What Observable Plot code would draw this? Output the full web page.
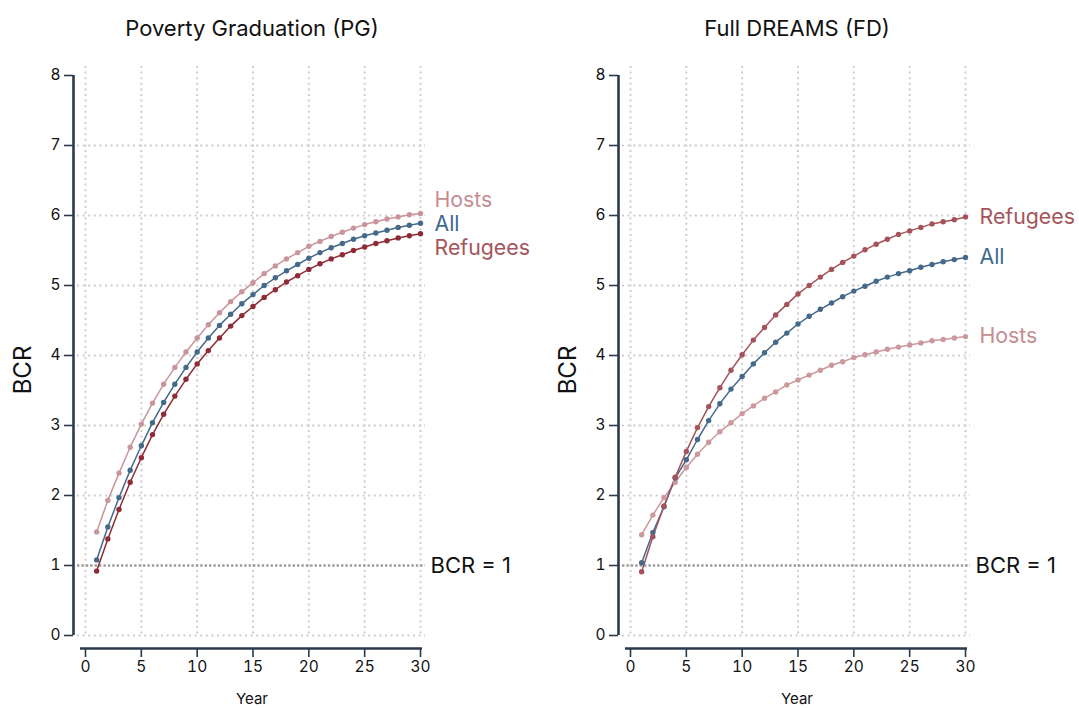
<!DOCTYPE html>
<html>
<head>
<meta charset="utf-8">
<script src="https://cdn.jsdelivr.net/npm/d3@7"></script>
<script src="https://cdn.jsdelivr.net/npm/@observablehq/plot@0.6"></script>
<style>
  html, body { margin: 0; padding: 0; background: #fff; }
  #wrap { position: relative; width: 1079px; height: 708px; font-family: Inter, "Noto Sans", sans-serif; color: #111; overflow: hidden; }
  .title { position: absolute; top: 13px; font-size: 22px; text-align: center; width: 400px; line-height: 30px; }
  .ylab { position: absolute; font-size: 24px; transform: rotate(-90deg); transform-origin: center; width: 60px; height: 30px; line-height: 30px; text-align: center; }
  .xlab { position: absolute; top: 690px; font-size: 15px; line-height: 17px; height: 17px; width: 100px; text-align: center; }
  .panel { position: absolute; top: 50px; }
</style>
</head>
<body>
<div id="wrap">
  <div class="title" style="left:52px">Poverty Graduation (PG)</div>
  <div class="title" style="left:597px">Full DREAMS (FD)</div>
  <div class="ylab" style="left:-7px; top:355px">BCR</div>
  <div class="ylab" style="left:538px; top:355px">BCR</div>
  <div class="xlab" style="left:202px">Year</div>
  <div class="xlab" style="left:747px">Year</div>
  <div id="left" class="panel" style="left:0px"></div>
  <div id="right" class="panel" style="left:545px"></div>
</div>
<script>
// ---- data ----
const years = d3.range(1, 31);
const xTicks = [0, 5, 10, 15, 20, 25, 30];
const yTicks = [0, 1, 2, 3, 4, 5, 6, 7, 8];
const yGridTicks = [0, 2, 3, 4, 5, 6, 7];
const bcrThreshold = 1;
const bcrLabel = "BCR = 1";
const groups = ["Hosts", "All", "Refugees"];

const pgHosts = [1.48, 1.93, 2.32, 2.69, 3.02, 3.32, 3.59, 3.83, 4.05, 4.25, 4.44, 4.61, 4.77, 4.91, 5.04, 5.17, 5.28, 5.38, 5.47, 5.56, 5.63, 5.70, 5.76, 5.82, 5.87, 5.91, 5.95, 5.98, 6.01, 6.03];
const pgAll = [1.08, 1.55, 1.97, 2.36, 2.71, 3.04, 3.33, 3.59, 3.83, 4.05, 4.25, 4.43, 4.59, 4.74, 4.87, 5.00, 5.11, 5.21, 5.30, 5.39, 5.47, 5.54, 5.60, 5.66, 5.71, 5.75, 5.79, 5.83, 5.86, 5.89];
const pgRefugees = [0.92, 1.38, 1.80, 2.19, 2.54, 2.87, 3.16, 3.42, 3.66, 3.88, 4.07, 4.25, 4.42, 4.57, 4.70, 4.83, 4.94, 5.05, 5.14, 5.23, 5.31, 5.38, 5.44, 5.50, 5.55, 5.60, 5.64, 5.68, 5.71, 5.74];

const fdHosts = [1.44, 1.72, 1.97, 2.19, 2.40, 2.59, 2.76, 2.91, 3.04, 3.17, 3.28, 3.39, 3.48, 3.58, 3.65, 3.72, 3.79, 3.86, 3.91, 3.97, 4.01, 4.05, 4.09, 4.12, 4.15, 4.18, 4.21, 4.23, 4.25, 4.27];
const fdAll = [1.04, 1.47, 1.84, 2.25, 2.51, 2.80, 3.07, 3.31, 3.52, 3.70, 3.88, 4.04, 4.19, 4.32, 4.45, 4.56, 4.66, 4.75, 4.84, 4.92, 4.99, 5.06, 5.12, 5.17, 5.21, 5.26, 5.30, 5.34, 5.37, 5.40];
const fdRefugees = [0.91, 1.41, 1.85, 2.26, 2.63, 2.97, 3.27, 3.54, 3.79, 4.01, 4.22, 4.40, 4.58, 4.73, 4.88, 5.00, 5.12, 5.23, 5.33, 5.42, 5.51, 5.59, 5.66, 5.73, 5.78, 5.83, 5.88, 5.91, 5.94, 5.98];

// ---- styling ----
const lineColors = {
  left: {Hosts: "#c9959b", All: "#44698b", Refugees: "#8e2b34"},
  right: {Hosts: "#cb989d", All: "#44698b", Refugees: "#a5535b"}
};
const labelColors = {Hosts: "#c68c92", All: "#3f6a8d", Refugees: "#a5545a"};

function toRows(seriesMap) {
  const rows = [];
  for (const g of groups) seriesMap[g].forEach((v, i) => rows.push({group: g, year: years[i], bcr: v}));
  return rows;
}

function panelWithLabels(seriesMap, colors, labelDy, W) {
  const rows = toRows(seriesMap);
  const gridStyle = {stroke: "#cdcdcd", strokeOpacity: 1, strokeWidth: 2, strokeDasharray: "2,3.6"};
  const labelMarks = groups.map(g => Plot.text([{group: g, year: years[years.length - 1], bcr: seriesMap[g][seriesMap[g].length - 1]}],
    {x: "year", y: "bcr", text: "group", dx: 14, dy: labelDy[g], textAnchor: "start", fontSize: 21.3, fill: labelColors[g]}));
  return Plot.plot({
    width: W,
    height: 658,
    marginLeft: 77,
    marginRight: W - 425,
    marginTop: 16,
    marginBottom: 71,
    insetLeft: 8,
    insetRight: 5,
    insetTop: 9,
    insetBottom: 2,
    x: {domain: [0, 30]},
    y: {domain: [0, 8]},
    style: {fontFamily: "Inter, 'Noto Sans', sans-serif", fontSize: "15px", color: "#111", background: "transparent", overflow: "visible"},
    marks: [
      Plot.gridY(yGridTicks, gridStyle),
      Plot.gridX(xTicks, gridStyle),
      Plot.ruleY([bcrThreshold], {stroke: "#9c9c9c", strokeWidth: 2.4, strokeDasharray: "2.4,2"}),
      Plot.text([bcrLabel], {x: 30, y: bcrThreshold, text: d => d, dx: 10, textAnchor: "start", fontSize: 22, fill: "#111"}),
      Plot.ruleX([0], {y1: 0, y2: 8, dx: -12, stroke: "#2a3a4b", strokeWidth: 2.6}),
      Plot.ruleY([0], {dy: 13, insetLeft: 3, insetRight: 3, stroke: "#2a3a4b", strokeWidth: 2.6}),
      Plot.axisY(yTicks, {tickSize: 9, dx: -4, tickPadding: 4, tickFormat: "d", label: null, stroke: "#2a3a4b", strokeWidth: 1.6, fontSize: 15.5}),
      Plot.axisX(xTicks, {tickSize: 9, dy: 11, tickPadding: 3, tickFormat: "d", label: null, stroke: "#2a3a4b", strokeWidth: 1.6, fontSize: 15.5}),
      Plot.line(rows, {x: "year", y: "bcr", z: "group", stroke: d => colors[d.group], strokeWidth: 1.5}),
      Plot.dot(rows, {x: "year", y: "bcr", fill: d => colors[d.group], r: 2.7}),
      ...labelMarks
    ]
  });
}

document.getElementById("left").append(
  panelWithLabels({Hosts: pgHosts, All: pgAll, Refugees: pgRefugees}, lineColors.left, {Hosts: -13, All: 1, Refugees: 14}, 545)
);
document.getElementById("right").append(
  panelWithLabels({Hosts: fdHosts, All: fdAll, Refugees: fdRefugees}, lineColors.right, {Hosts: 0, All: 0, Refugees: 0}, 534)
);
</script>
</body>
</html>
